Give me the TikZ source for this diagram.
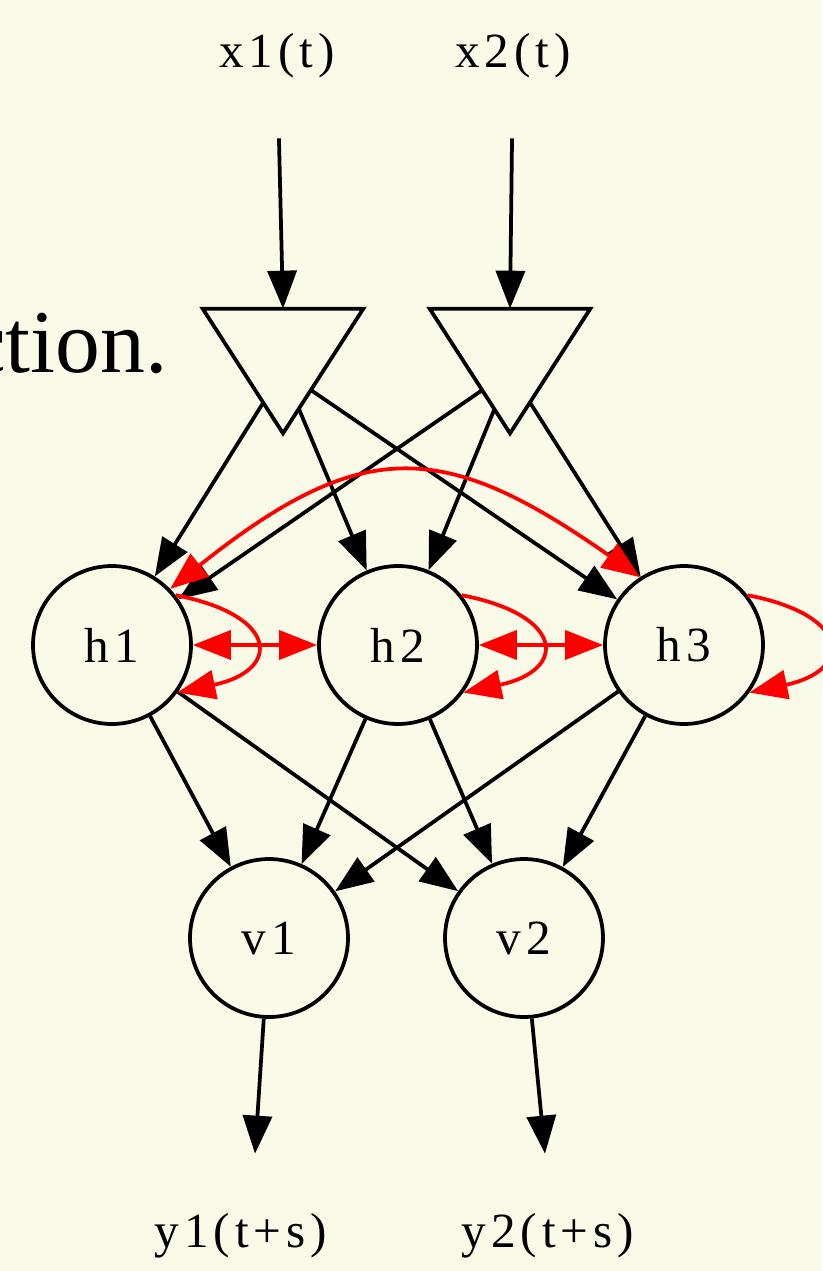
\documentclass[tikz,border=0pt]{standalone}
\usepackage{fontspec}
\setmainfont{Liberation Serif}
\newfontfamily\gvfont[LetterSpace=10]{Liberation Serif}
\usepackage{xcolor}
\usetikzlibrary{arrows.meta}
\definecolor{paper}{RGB}{249,250,232}

\begin{document}
\begin{tikzpicture}[
    x=0.02cm, y=-0.02cm,
    >={Triangle[length=0.76cm, width=0.58cm]},
    unit/.style={
        circle,
        draw=black,
        line width=0.075cm,
        fill=paper,
        minimum size=3.16cm,
        inner sep=0,
        font=\gvfont\fontsize{28}{30}\selectfont
    },
    gate/.style={minimum width=3.2cm, minimum height=2.48cm, inner sep=0},
    port/.style={inner sep=0, font=\gvfont\fontsize{28}{30}\selectfont},
    wire/.style={->, line width=0.075cm},
    feedback/.style={red, line width=0.075cm}
]

% Page
\path[use as bounding box, fill=paper] (0,0) rectangle (822,1271);

% Cut-off text at the left
\node[font=\fontsize{51}{60}\selectfont, anchor=base east, inner sep=0] (cut) at (168,372) {ction.};

% ===== Inputs =====
\node[port, outer ysep=1.2cm] (x1) at (277,56) {x1(t)};
\node[port, outer ysep=1.2cm] (x2) at (513,56) {x2(t)};

% Input gates
\node[gate] (t1) at (283,371) {};
\node[gate] (t2) at (510,371) {};

% ===== Hidden layer =====
\node[unit] (h1) at (112,645) {h1};
\node[unit] (h2) at (398,645) {h2};
\node[unit] (h3) at (684,645) {h3};

% ===== Output layer =====
\node[unit] (v1) at (269,938) {v1};
\node[unit] (v2) at (524,938) {v2};

\node[port, outer ysep=1.2cm] (y1) at (241,1236) {y1(t+s)};
\node[port, outer ysep=1.2cm] (y2) at (548,1236) {y2(t+s)};

% Gates to hidden units
\draw[wire] (t1.center) -- (h1);
\draw[wire] (t1.center) -- (h2);
\draw[wire] (t1.center) -- (h3);
\draw[wire] (t2.center) -- (h1);
\draw[wire] (t2.center) -- (h2);
\draw[wire] (t2.center) -- (h3);

% Triangles on top
\filldraw[fill=paper, line width=0.075cm, line join=miter]
    (t1.north west) -- (t1.north east) -- (t1.south) -- cycle;
\filldraw[fill=paper, line width=0.075cm, line join=miter]
    (t2.north west) -- (t2.north east) -- (t2.south) -- cycle;

% Inputs to gates
\draw[wire] (x1) -- (t1.north);
\draw[wire] (x2) -- (t2.north);

% Hidden to output
\draw[wire] (h1) -- (v1);
\draw[wire] (h1) -- (v2);
\draw[wire] (h2) -- (v1);
\draw[wire] (h2) -- (v2);
\draw[wire] (h3) -- (v1);
\draw[wire] (h3) -- (v2);

% Outputs
\draw[wire] (v1) -- ([xshift=0.28cm]y1.north);
\draw[wire] (v2) -- ([xshift=-0.06cm]y2.north);

% ===== Recurrent links =====
\draw[feedback, <->] (h1) -- (h2);
\draw[feedback, <->] (h2) -- (h3);
\draw[feedback, <->] (h1.44) .. controls +(194,-155) and +(-194,-136) .. (h3.123);

% Self loops
\draw[feedback, ->] (h1.38) .. controls +(104,20) and +(104,-22) .. (h1.-36);
\draw[feedback, ->] (h2.38) .. controls +(104,20) and +(104,-22) .. (h2.-36);
\draw[feedback, ->] (h3.38) .. controls +(104,20) and +(104,-22) .. (h3.-36);

\end{tikzpicture}
\end{document}
